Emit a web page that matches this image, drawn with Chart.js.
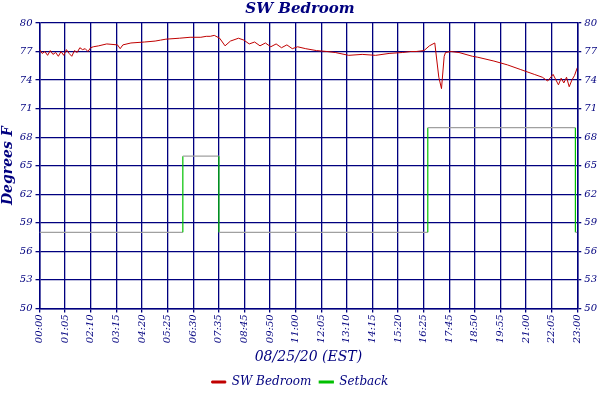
<!DOCTYPE html>
<html><head><meta charset="utf-8">
<script src="https://cdn.jsdelivr.net/npm/chart.js@4"></script>
<style>html,body{margin:0;background:#fff}#w{width:600px;height:400px}</style>
</head><body><div id="w"><canvas id="c"></canvas></div>
<script>
const timeLabels=["00:00","01:05","02:10","03:15","04:20","05:25","06:30","07:35","08:45","09:50","11:00","12:05","13:10","14:15","15:20","16:25","17:45","18:50","19:55","21:00","22:05","23:00"];
const yTicks=[50,53,56,59,62,65,68,71,74,77,80];
// temperature: x positions read as fraction of a 20-unit width (scaled to label index below), values in °F
const tempX=[0,0.1,0.2,0.3,0.4,0.5,0.6,0.7,0.8,0.9,1.0,1.1,1.2,1.3,1.4,1.5,1.6,1.7,1.8,1.9,2.0,2.2,2.5,2.9,3.0,3.1,3.4,3.9,4.3,4.5,4.7,5.2,5.6,6.0,6.2,6.35,6.5,6.7,6.9,7.1,7.4,7.6,7.8,8.0,8.2,8.4,8.6,8.8,9.0,9.2,9.4,9.6,9.9,10.3,10.7,11.0,11.5,12.0,12.5,13.0,13.5,13.8,14.0,14.3,14.5,14.7,14.85,14.95,15.05,15.1,15.3,15.6,16.1,16.3,16.9,17.4,17.9,18.4,18.7,18.9,19.1,19.3,19.4,19.5,19.6,19.7,19.8,19.9,20.0];
const tempY=[77.2,76.8,77.0,76.6,77.1,76.7,76.9,76.5,77.0,76.6,77.2,76.8,76.5,77.1,76.9,77.4,77.2,77.3,77.0,77.4,77.5,77.6,77.8,77.7,77.3,77.7,77.9,78.0,78.1,78.2,78.3,78.4,78.5,78.5,78.6,78.6,78.7,78.4,77.6,78.1,78.4,78.2,77.8,78.0,77.6,77.9,77.5,77.8,77.4,77.7,77.3,77.5,77.3,77.1,77.0,76.9,76.6,76.7,76.6,76.8,76.9,77.0,77.0,77.1,77.6,77.9,74.3,73.1,76.5,76.9,77.0,76.9,76.5,76.4,76.0,75.6,75.1,74.6,74.3,73.9,74.6,73.5,74.2,73.7,74.3,73.3,74.0,74.5,75.3];
const setX=[0,5.33,5.33,6.67,6.67,14.44,14.44,19.93,19.93,20.0];
const setY=[58,58,66,66,58,58,69,69,58,58];
const NAVY='#00007f', FONT='"DejaVu Serif", "Liberation Serif", serif';
const XSCALE=21/20;
Chart.defaults.font.family=FONT; Chart.defaults.color=NAVY;
const pts=(xs,ys)=>xs.map((x,i)=>({x:x*XSCALE,y:ys[i]}));
const yAxis=(pos)=>({position:pos,min:50,max:80,afterBuildTicks:a=>{a.ticks=yTicks.map(v=>({value:v}))},
  ticks:{color:NAVY,font:{size:10,style:'italic'},padding:3},
  grid:{color:NAVY,lineWidth:1.3,tickLength:4,drawOnChartArea:pos==='left'},border:{color:NAVY,width:1.5}});
new Chart(document.getElementById('c'),{type:'line',
 data:{datasets:[
  {label:'SW Bedroom',data:pts(tempX,tempY),borderColor:'#c00000',backgroundColor:'#c00000',borderWidth:1,pointRadius:0,tension:0},
  {label:'Setback',data:pts(setX,setY),borderColor:'#00c000',backgroundColor:'#00c000',borderWidth:1.2,pointRadius:0,
   segment:{borderColor:c=>c.p0.parsed.y===c.p1.parsed.y?'#a0a0a0':'#00c000'}}]},
 options:{animation:false,responsive:true,maintainAspectRatio:false,
  layout:{padding:{left:0,right:0,top:0,bottom:2}},
  plugins:{title:{display:true,text:'SW Bedroom',color:NAVY,font:{size:15,weight:'bold',style:'italic'},padding:{top:0,bottom:5}},
   legend:{position:'bottom',labels:{boxWidth:14,boxHeight:2,color:NAVY,font:{size:12,style:'italic'},padding:8}},tooltip:{enabled:false}},
  scales:{
   x:{type:'linear',min:0,max:21,afterBuildTicks:a=>{a.ticks=timeLabels.map((_,i)=>({value:i}))},
     ticks:{callback:v=>timeLabels[v],maxRotation:90,minRotation:90,color:NAVY,font:{size:10,style:'italic'},autoSkip:false,padding:2},
     grid:{color:NAVY,lineWidth:1.3,tickLength:4},border:{color:NAVY,width:1.5},
     title:{display:true,text:'08/25/20 (EST)',color:NAVY,font:{size:14,style:'italic'},padding:{top:4,bottom:2}}},
   y:Object.assign(yAxis('left'),{title:{display:true,text:'Degrees F',color:NAVY,font:{size:14,weight:'bold',style:'italic'},padding:0}}),
   y2:yAxis('right')}}});
</script></body></html>
